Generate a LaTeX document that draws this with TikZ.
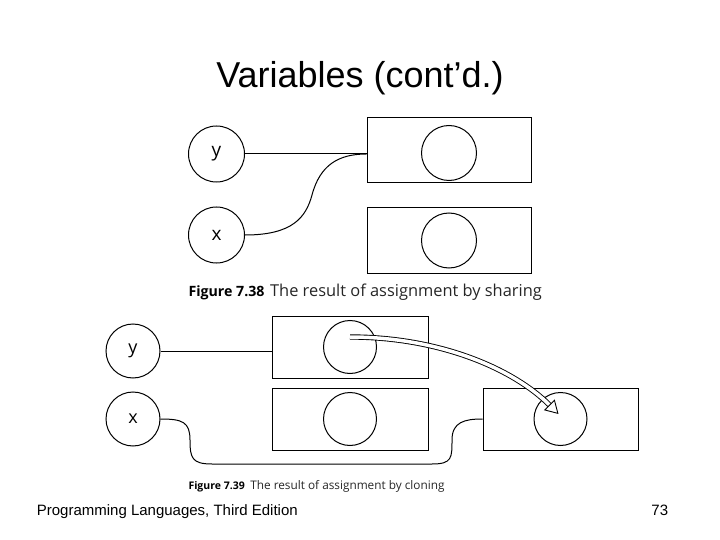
\documentclass[tikz,border=0pt]{standalone}
\usepackage{fontspec}
\setmainfont{Liberation Sans}
\newfontfamily\figfont{Open Sans}
\usetikzlibrary{positioning, arrows.meta, calc}

\begin{document}
\begin{tikzpicture}[
    x=1pt, y=-1pt,
    varnode/.style={
        circle,
        draw,
        minimum size=56pt,
        inner sep=0pt,
        font=\figfont\fontsize{19}{19}\selectfont
    },
    cellbox/.style={
        draw,
        minimum width=164pt,
        minimum height=65pt,
        inner sep=0pt
    },
    valcirc/.style={
        circle,
        draw,
        minimum size=55pt,
        inner sep=0pt
    },
    capnode/.style={
        anchor=base west,
        inner sep=0pt
    },
    line width=1pt,
    >=stealth
]

\useasboundingbox (0,0) rectangle (720,540);

% Title
\node[anchor=base, font=\fontsize{36}{36}\selectfont] (title) at (360,88) {Variables (cont’d.)};

% ==========================================
% FIGURE 7.38: SHARING
% ==========================================

% Variables
\node[varnode] (ty) at (216.5,154) {y};
\node[varnode, below=24pt of ty] (tx) {x};

% Cells
\node[cellbox] (tb1) at (449,150.5) {};
\node[cellbox, below=24pt of tb1] (tb2) {};
\node[valcirc] (tc1) at ($(tb1.center)+(0,2.5)$) {};
\node[valcirc] (tc2) at (tb2.center) {};

% Connecting lines
\draw (ty.east) -- (ty.east -| tb1.west);
\coordinate (tbend) at (312,195);
\draw (tx.east) .. controls +(48,0) and +(-6,22) .. (tbend)
    .. controls +(8,-30) and +(-28,0) .. (ty.east -| tb1.west);

% Caption
\node[capnode] (cap1) at (188,296) {{\figfont\fontsize{14.2}{14.2}\selectfont\bfseries Figure 7.38}\ \ {\figfont\fontsize{16.4}{16.4}\selectfont\color{black!85}The result of assignment by sharing}};

% ==========================================
% FIGURE 7.39: CLONING
% ==========================================

% Variables
\node[varnode, minimum size=54pt, font=\figfont\fontsize{18}{18}\selectfont] (by) at (133,351) {y};
\node[varnode, minimum size=54pt, font=\figfont\fontsize{18}{18}\selectfont, below=13pt of by] (bx) {x};

% Cells
\node[cellbox, minimum width=156pt, minimum height=62pt] (ba) at (350,347) {};
\node[cellbox, minimum width=156pt, minimum height=62pt, below=9pt of ba] (bb) {};
\node[cellbox, minimum width=155pt, minimum height=62pt, right=54pt of bb] (bc) {};
\node[valcirc, minimum size=53pt] (va) at (ba.center) {};
\node[valcirc, minimum size=53pt] (vb) at (bb.center) {};
\node[valcirc, minimum size=53pt] (vc) at (bc.center) {};

% Connecting lines
\draw (by.east) -- (by.east -| ba.west);
\coordinate (xdrop) at (190,440);
\coordinate (xrise) at (452,440);
\draw (bx.east) .. controls +(22,0) and +(0,-18) .. (xdrop)
    .. controls +(0,18) and +(-20,0) .. (212,464) -- (432,464)
    .. controls +(20,0) and +(0,18) .. (xrise)
    .. controls +(0,-18) and +(-18,0) .. (bc.west);

% Copy arrow
\coordinate (tail) at ($(va.center)+(0,-10)$);
\coordinate (tip) at ($(vc.center)+(-2,-5)$);
\draw[double, double distance=3.5pt, line width=0.9pt, -{Triangle[open, length=13pt, width=15pt]}]
    (tail) .. controls +(90,0) and +(-45,-45) .. (tip);

% Caption
\node[capnode] (cap2) at (188,489) {{\figfont\fontsize{10.5}{10.5}\selectfont\bfseries Figure 7.39}\ \ {\figfont\fontsize{11.8}{11.8}\selectfont\color{black!85}The result of assignment by cloning}};

% Footer
\node[anchor=base west, font=\fontsize{15}{15}\selectfont] (foot) at (33,515) {Programming Languages, Third Edition};
\node[anchor=base east, font=\fontsize{15}{15}\selectfont] (pagenum) at (672,515) {73};

\end{tikzpicture}
\end{document}
